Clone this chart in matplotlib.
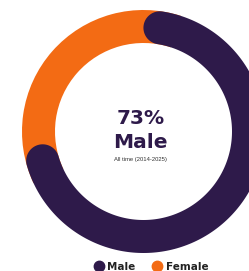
import numpy as np
import matplotlib
matplotlib.use("Agg")
import matplotlib.pyplot as plt
from matplotlib.patches import Polygon, Wedge
from matplotlib.lines import Line2D

# data
labels = ["Male", "Female"]
shares = [73, 27]
colors = ["#2E1A4A", "#F36B14"]
headline = "73%"
subtitle = "All time (2014-2025)"

W, H = 249, 271
fig = plt.figure(figsize=(W / 100, H / 100), dpi=100)
ax = fig.add_axes([0, 0, 1, 1])
ax.set_xlim(0, W)
ax.set_ylim(H, 0)
ax.axis("off")

# ring geometry (pixel units, y down)
cx, cy = 143.5, 131.5
r_out, r_in = 121.5, 88.5
r_mid = (r_out + r_in) / 2
cap = (r_out - r_in) / 2
cap_deg = np.degrees(cap / r_mid)


def pt(r, deg):
    a = np.radians(deg)
    return cx + r * np.cos(a), cy - r * np.sin(a)


def rounded_arc(start, end):
    # clockwise arc from start to end (degrees), round caps kept inside the span
    a0 = start - cap_deg
    a1 = end + cap_deg
    pts = [pt(r_out, a) for a in np.linspace(a0, a1, 200)]
    c1 = np.array(pt(r_mid, a1))
    for t in np.linspace(0, 180, 40):
        ang = np.radians(a1 - t)
        pts.append((c1[0] + cap * np.cos(ang), c1[1] - cap * np.sin(ang)))
    pts += [pt(r_in, a) for a in np.linspace(a1, a0, 200)]
    c0 = np.array(pt(r_mid, a0))
    for t in np.linspace(0, 180, 40):
        ang = np.radians(a0 + 180 - t)
        pts.append((c0[0] + cap * np.cos(ang), c0[1] - cap * np.sin(ang)))
    return np.array(pts)


total = sum(shares)
male_span = 360 * shares[0] / total
start = 90
end = start - male_span

# female ring underneath, reaching in under the male caps
theta1 = 90 - cap_deg * 2
theta2 = 360 + end + cap_deg * 2
# y axis is inverted, so the wedge angles are mirrored
ax.add_patch(Wedge((cx, cy), r_out, -theta2, -theta1, width=r_out - r_in,
                   facecolor=colors[1], edgecolor="none"))

ax.add_patch(Polygon(rounded_arc(start, end), closed=True,
                     facecolor=colors[0], edgecolor="none"))

ax.text(cx - 3, 118, headline, ha="center", va="center", fontsize=14.5,
        fontweight="bold", color=colors[0], family="DejaVu Sans")
ax.text(cx - 3, 143, labels[0], ha="center", va="center", fontsize=14.5,
        fontweight="bold", color=colors[0], family="DejaVu Sans")
ax.text(cx - 3, 159, subtitle, ha="center", va="center", fontsize=4.2,
        color="#333333", family=["Liberation Sans Narrow", "Liberation Sans"])

handles = [Line2D([], [], marker="o", linestyle="none", markersize=7.5,
                  markerfacecolor=c, markeredgecolor=c) for c in colors]
leg = ax.legend(handles, labels, loc="center", bbox_to_anchor=(151 / W, 1 - 267 / H),
                ncol=2, frameon=False, handlelength=1.0, handletextpad=0.3,
                columnspacing=1.6,
                prop={"family": "DejaVu Sans", "weight": "bold", "size": 7.5},
                borderaxespad=0)
for t in leg.get_texts():
    t.set_color("#222222")

fig.savefig("out.png", dpi=100)
